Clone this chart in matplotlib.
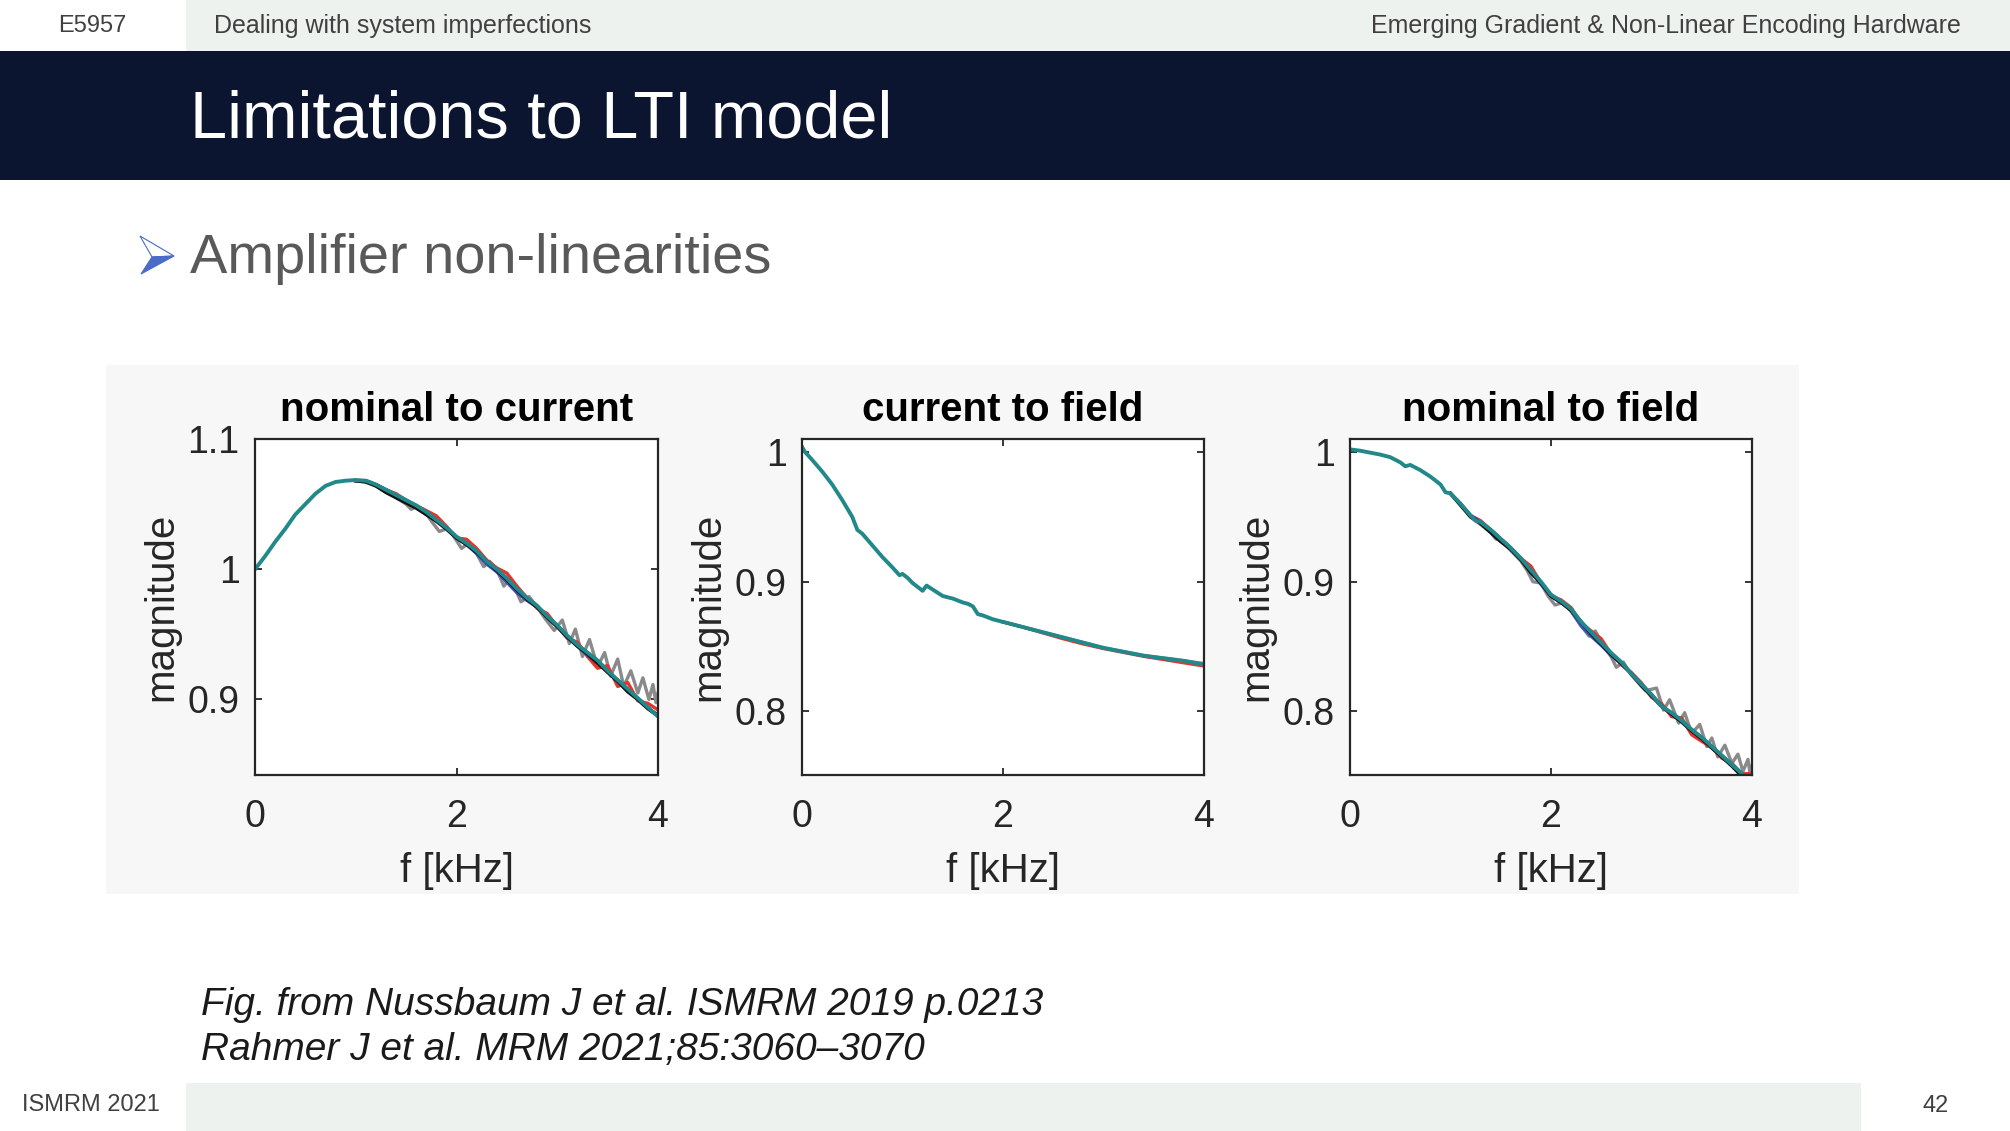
import matplotlib.pyplot as plt
from matplotlib.patches import Rectangle, Polygon

# ---- data (magnitude vs f [kHz]) ----
panel_titles = ['nominal to current', 'current to field', 'nominal to field']

# teal curve (top layer), one per panel
f_nc = [0.0, 0.1, 0.2, 0.3, 0.4, 0.5, 0.6, 0.7, 0.8, 0.9, 1.0, 1.1, 1.2, 1.3, 1.4,
        1.5, 1.6, 1.7, 1.8, 1.9, 2.0, 2.1, 2.2, 2.3, 2.4, 2.5, 2.6, 2.7, 2.8, 2.9,
        3.0, 3.1, 3.2, 3.3, 3.4, 3.5, 3.6, 3.7, 3.8, 3.9, 4.0]
teal_nc = [1.000, 1.010, 1.021, 1.031, 1.042, 1.050, 1.058, 1.064, 1.067, 1.068,
           1.0685, 1.068, 1.065, 1.061, 1.057, 1.053, 1.049, 1.044, 1.038, 1.032,
           1.025, 1.020, 1.014, 1.006, 1.000, 0.993, 0.985, 0.978, 0.972, 0.964,
           0.957, 0.949, 0.942, 0.936, 0.930, 0.922, 0.915, 0.908, 0.901, 0.894, 0.887]

f_cf = [0.0, 0.03, 0.1, 0.2, 0.3, 0.4, 0.5, 0.55, 0.6, 0.7, 0.8, 0.9, 0.97, 1.0,
        1.05, 1.1, 1.2, 1.24, 1.3, 1.4, 1.5, 1.6, 1.65, 1.7, 1.75, 1.8, 1.9, 2.0,
        2.2, 2.4, 2.6, 2.8, 3.0, 3.2, 3.4, 3.6, 3.8, 4.0]
teal_cf = [1.004, 1.000, 0.994, 0.985, 0.975, 0.963, 0.950, 0.940, 0.937, 0.928,
           0.919, 0.911, 0.905, 0.906, 0.903, 0.899, 0.893, 0.897, 0.894, 0.889,
           0.887, 0.884, 0.883, 0.881, 0.875, 0.874, 0.871, 0.869, 0.865, 0.861,
           0.857, 0.853, 0.849, 0.846, 0.843, 0.841, 0.839, 0.836]

f_nf = [0.0, 0.1, 0.2, 0.3, 0.4, 0.5, 0.55, 0.6, 0.7, 0.8, 0.9, 0.95, 1.0, 1.1,
        1.2, 1.25, 1.3, 1.4, 1.5, 1.6, 1.7, 1.8, 1.9, 2.0, 2.1, 2.2, 2.3, 2.4,
        2.5, 2.6, 2.7, 2.8, 2.9, 3.0, 3.1, 3.2, 3.3, 3.4, 3.5, 3.6, 3.7, 3.8, 3.9, 4.0]
teal_nf = [1.002, 1.001, 0.9995, 0.998, 0.996, 0.992, 0.989, 0.990, 0.986, 0.981,
           0.975, 0.969, 0.968, 0.960, 0.951, 0.947, 0.946, 0.940, 0.933, 0.926,
           0.918, 0.909, 0.900, 0.890, 0.885, 0.879, 0.869, 0.861, 0.853, 0.845,
           0.838, 0.829, 0.821, 0.813, 0.804, 0.799, 0.793, 0.786, 0.780, 0.773,
           0.766, 0.759, 0.752, 0.746]

# the other repetitions, only distinguishable above ~1 kHz
f_hi = [1.0, 1.1, 1.2, 1.3, 1.4, 1.5, 1.6, 1.7, 1.8, 1.9, 2.0, 2.1, 2.2, 2.3, 2.4,
        2.5, 2.6, 2.7, 2.8, 2.9, 3.0, 3.1, 3.2, 3.3, 3.4, 3.5, 3.6, 3.7, 3.8, 3.9, 4.0]
red_nc = [1.068, 1.068, 1.065, 1.061, 1.058, 1.053, 1.049, 1.045, 1.041, 1.033,
          1.024, 1.023, 1.016, 1.007, 1.001, 0.997, 0.987, 0.978, 0.970, 0.966,
          0.956, 0.947, 0.944, 0.933, 0.924, 0.926, 0.910, 0.913, 0.899, 0.897, 0.892]
black_nc = [1.068, 1.067, 1.064, 1.059, 1.055, 1.051, 1.047, 1.042, 1.037, 1.031,
            1.024, 1.019, 1.013, 1.006, 0.999, 0.992, 0.984, 0.977, 0.971, 0.963,
            0.956, 0.948, 0.941, 0.935, 0.928, 0.921, 0.914, 0.906, 0.900, 0.893, 0.888]
blue_nc = [1.068, 1.068, 1.065, 1.061, 1.057, 1.053, 1.048, 1.044, 1.037, 1.031,
           1.024, 1.019, 1.012, 1.004, 0.998, 0.990, 0.982, 0.976, 0.971, 0.963,
           0.956, 0.948, 0.941, 0.934, 0.929, 0.921, 0.914, 0.907, 0.900, 0.893, 0.887]
red_nf = [0.968, 0.960, 0.951, 0.947, 0.940, 0.933, 0.926, 0.918, 0.912, 0.899,
          0.889, 0.886, 0.880, 0.868, 0.862, 0.856, 0.844, 0.836, 0.830, 0.822,
          0.811, 0.806, 0.796, 0.795, 0.782, 0.777, 0.772, 0.764, 0.760, 0.752, 0.752]
black_nf = [0.968, 0.959, 0.950, 0.945, 0.938, 0.931, 0.925, 0.917, 0.907, 0.899,
            0.889, 0.884, 0.878, 0.869, 0.860, 0.852, 0.844, 0.837, 0.829, 0.820,
            0.812, 0.804, 0.798, 0.792, 0.785, 0.779, 0.772, 0.765, 0.758, 0.750, 0.745]
blue_nf = [0.968, 0.960, 0.951, 0.946, 0.940, 0.933, 0.926, 0.918, 0.908, 0.898,
           0.889, 0.884, 0.878, 0.866, 0.858, 0.851, 0.843, 0.837, 0.829, 0.821,
           0.813, 0.804, 0.798, 0.792, 0.786, 0.779, 0.772, 0.766, 0.759, 0.752, 0.746]

# grey repetition with the ringing at high frequency
f_gray_nc = [1.0, 1.1, 1.2, 1.3, 1.4, 1.5, 1.55, 1.6, 1.7, 1.75, 1.83, 1.9, 1.95,
             2.05, 2.12, 2.2, 2.27, 2.33, 2.4, 2.47, 2.53, 2.6, 2.64, 2.72, 2.8,
             2.88, 2.97, 3.05, 3.12, 3.18, 3.25, 3.32, 3.40, 3.47, 3.53, 3.60,
             3.66, 3.73, 3.80, 3.85, 3.91, 3.95, 3.98, 4.0]
gray_nc = [1.068, 1.068, 1.064, 1.061, 1.055, 1.050, 1.046, 1.048, 1.043, 1.037,
           1.029, 1.031, 1.028, 1.016, 1.020, 1.012, 1.002, 1.006, 1.000, 0.987,
           0.993, 0.982, 0.975, 0.979, 0.971, 0.962, 0.953, 0.961, 0.943, 0.954,
           0.933, 0.946, 0.925, 0.936, 0.918, 0.931, 0.910, 0.922, 0.905, 0.9166,
           0.900, 0.9115, 0.8975, 0.905]
f_gray_nf = [1.0, 1.1, 1.2, 1.3, 1.4, 1.45, 1.5, 1.6, 1.7, 1.76, 1.82, 1.9, 1.97,
             2.04, 2.12, 2.2, 2.3, 2.38, 2.44, 2.52, 2.6, 2.65, 2.72, 2.8, 2.87,
             2.94, 3.05, 3.12, 3.18, 3.27, 3.33, 3.40, 3.48, 3.55, 3.60, 3.66,
             3.73, 3.80, 3.86, 3.91, 3.96, 3.98, 4.0]
gray_nf = [0.968, 0.960, 0.950, 0.944, 0.938, 0.933, 0.932, 0.924, 0.916, 0.909,
           0.900, 0.899, 0.889, 0.882, 0.884, 0.877, 0.866, 0.858, 0.862, 0.851,
           0.842, 0.834, 0.838, 0.828, 0.822, 0.816, 0.818, 0.801, 0.809, 0.791,
           0.799, 0.783, 0.790, 0.773, 0.7795, 0.765, 0.774, 0.760, 0.767, 0.7538,
           0.763, 0.7526, 0.758]

f_cf_hi = [2.0, 2.2, 2.4, 2.6, 2.8, 3.0, 3.2, 3.4, 3.6, 3.8, 4.0]
red_cf = [0.869, 0.865, 0.8605, 0.856, 0.852, 0.8485, 0.8455, 0.8425, 0.840, 0.8375, 0.835]
gray_cf = [0.869, 0.865, 0.861, 0.857, 0.853, 0.849, 0.846, 0.843, 0.841, 0.839, 0.837]

yticks_nc = [0.9, 1.0, 1.1]
yticks_field = [0.8, 0.9, 1.0]

# ---- slide layout (pixel coordinates, origin top-left) ----
W, H = 2010, 1131
fig = plt.figure(figsize=(W / 100, H / 100), dpi=100)
fig.patch.set_facecolor('white')
SANS = 'Liberation Sans'


def rect(x0, y0, x1, y1, color):
    fig.patches.append(Rectangle((x0 / W, 1 - y1 / H), (x1 - x0) / W, (y1 - y0) / H,
                                 transform=fig.transFigure, facecolor=color,
                                 edgecolor='none', zorder=-1))


def txt(x, y, s, **kw):
    fig.text(x / W, 1 - y / H, s, family=SANS, va='center', **kw)


rect(186, 0, W, 51, '#eef2ee')            # header strip
rect(0, 51, W, 180, '#0c1530')             # title bar
rect(106, 365, 1799, 894, '#f7f7f7')       # figure background
rect(186, 1083, 1861, H, '#eef2ee')        # footer strip

txt(58, 26, 'E5957', fontsize=17, color='#404040')
txt(214, 26, 'Dealing with system imperfections', fontsize=18, color='#404040')
txt(1961, 26, 'Emerging Gradient & Non-Linear Encoding Hardware', fontsize=18,
    color='#404040', ha='right')
txt(190, 121, 'Limitations to LTI model', fontsize=48, color='white')
txt(190, 259, 'Amplifier non-linearities', fontsize=40.3, color='#595959')
txt(201, 1005, 'Fig. from Nussbaum J et al. ISMRM 2019 p.0213', fontsize=28,
    style='italic', color='#1a1a1a')
txt(201, 1050, 'Rahmer J et al. MRM 2021;85:3060\u20133070', fontsize=28,
    style='italic', color='#1a1a1a')
txt(22, 1105, 'ISMRM 2021', fontsize=17, color='#404040')
txt(1936, 1106, '42', fontsize=17, color='#404040', ha='center')

# bullet arrowhead
pts = lambda p: [(x / W, 1 - y / H) for x, y in p]
fig.patches.append(Polygon(pts([(140, 236), (174, 256), (152, 257)]), closed=True,
                           transform=fig.transFigure, facecolor='white',
                           edgecolor='#4a6cc8', linewidth=0.8, zorder=-1))
fig.patches.append(Polygon(pts([(152, 257), (174, 256), (141, 274)]), closed=True,
                           transform=fig.transFigure, facecolor='#4a6cc8',
                           edgecolor='#4a6cc8', linewidth=0.8, zorder=-1))

# ---- the three panels ----
axes_px = [(255, 658), (802, 1204), (1350, 1752)]
top_px, bot_px = 439, 775
axs = [fig.add_axes([x0 / W, 1 - bot_px / H, (x1 - x0) / W, (bot_px - top_px) / H])
       for x0, x1 in axes_px]

TEAL, RED, GRAY, BLUE, BLACK = '#22898a', '#e8322b', '#8a8a8a', '#3a4fbf', '#111111'

ax = axs[0]
ax.plot(f_gray_nc, gray_nc, color=GRAY, lw=2.4)
ax.plot(f_hi, red_nc, color=RED, lw=2.4)
ax.plot(f_hi, blue_nc, color=BLUE, lw=2.4)
ax.plot(f_hi, black_nc, color=BLACK, lw=2.6)
ax.plot(f_nc, teal_nc, color=TEAL, lw=2.8)
ax.set_ylim(0.842, 1.1)
ax.set_yticks(yticks_nc)
ax.set_yticklabels(['0.9', '1', '1.1'])

ax = axs[1]
ax.plot(f_cf_hi, gray_cf, color=GRAY, lw=2.4)
ax.plot(f_cf_hi, red_cf, color=RED, lw=2.4)
ax.plot(f_cf, teal_cf, color=TEAL, lw=2.8)
ax.set_ylim(0.751, 1.010)

ax = axs[2]
ax.plot(f_gray_nf, gray_nf, color=GRAY, lw=2.4)
ax.plot(f_hi, red_nf, color=RED, lw=2.4)
ax.plot(f_hi, blue_nf, color=BLUE, lw=2.4)
ax.plot(f_hi, black_nf, color=BLACK, lw=2.6)
ax.plot(f_nf, teal_nf, color=TEAL, lw=2.8)
ax.set_ylim(0.751, 1.010)

for ax in axs[1:]:
    ax.set_yticks(yticks_field)
    ax.set_yticklabels(['0.8', '0.9', '1'])

for ax, title in zip(axs, panel_titles):
    ax.set_zorder(2)
    ax.set_xlim(0, 4)
    ax.set_xticks([0, 2, 4])
    ax.set_xticklabels(['0', '2', '4'])
    ax.set_title(title, fontsize=29, fontweight='bold', family=SANS, pad=13)
    ax.set_xlabel('f [kHz]', fontsize=29, family=SANS, color='#262626', labelpad=12.5)
    ax.set_ylabel('magnitude', fontsize=29, family=SANS, color='#262626', labelpad=5.5)
    ax.tick_params(direction='in', top=True, right=True, length=5, width=1.3,
                   color='#262626', labelcolor='#262626', labelsize=27)
    ax.tick_params(axis='x', pad=17)
    ax.tick_params(axis='y', pad=11)
    for lab in ax.get_xticklabels() + ax.get_yticklabels():
        lab.set_family(SANS)
    for sp in ax.spines.values():
        sp.set_linewidth(1.6)
        sp.set_color('#262626')

fig.savefig('out.png', dpi=100)
